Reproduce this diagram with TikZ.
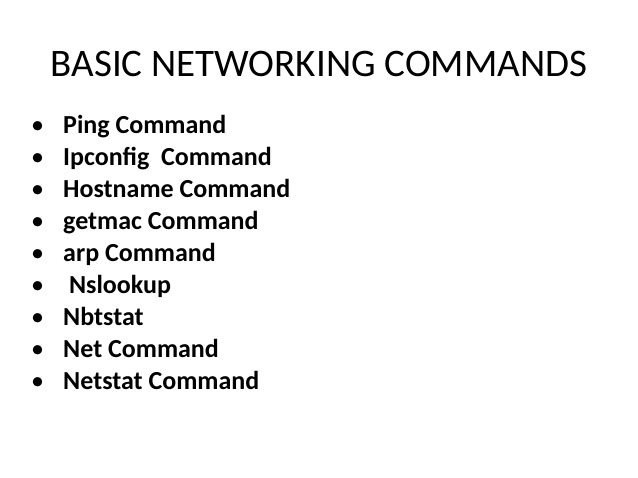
\documentclass[tikz,border=0pt]{standalone}
\usepackage{fontspec}
\setmainfont{Carlito}
\begin{document}
\begin{tikzpicture}[x=1pt,y=-1pt,
  item/.style={anchor=base west,inner sep=0pt,font=\fontsize{26}{30}\selectfont\bfseries},
  bul/.style={anchor=base west,inner sep=0pt,font=\fontsize{26}{30}\selectfont}]
\useasboundingbox (0,0) rectangle (638,478);
\node[inner sep=0pt,anchor=base,font=\fontsize{39}{44}\selectfont] (title) at (319,77) {BASIC NETWORKING COMMANDS};
\foreach \t [count=\i] in {Ping Command,Ipconfig\ \ Command,Hostname Command,getmac Command,arp Command,\ Nslookup,Nbtstat,Net Command,Netstat Command}{
  \node[bul] (b\i) at (31,{134+31.9*(\i-1)}) {•};
  \node[item] (t\i) at (63,{134+31.9*(\i-1)}) {\t};
}
\end{tikzpicture}
\end{document}
